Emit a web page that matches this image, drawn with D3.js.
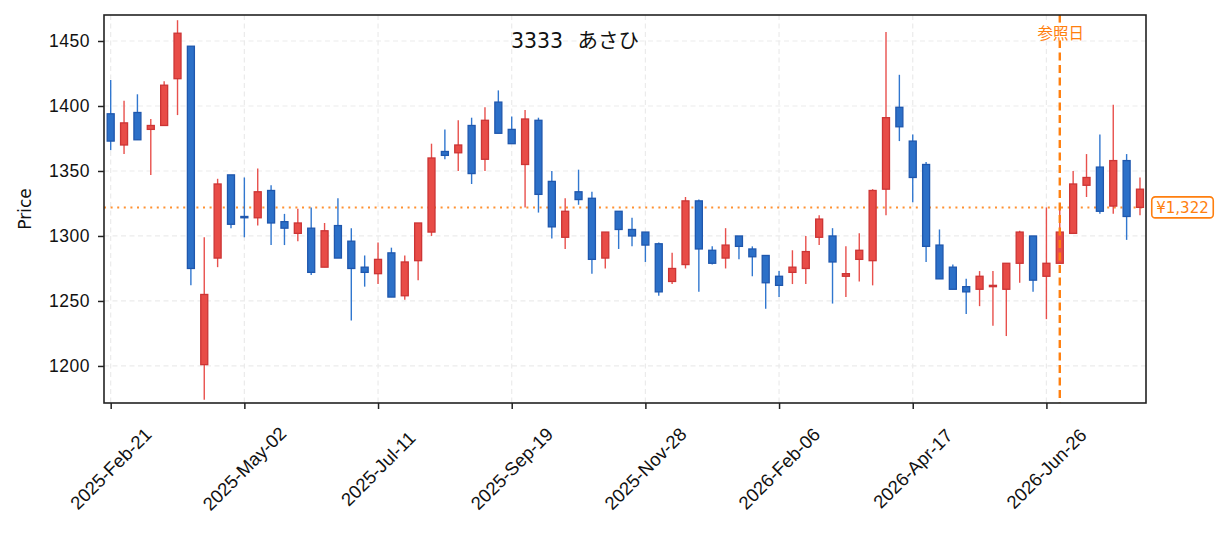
<!DOCTYPE html>
<html><head><meta charset="utf-8">
<script src="https://cdn.jsdelivr.net/npm/d3@7"></script>
<style>
html,body{margin:0;padding:0;background:#fff;}
svg{display:block;font-family:"DejaVu Sans","Noto Sans CJK JP",sans-serif;}
</style></head>
<body>
<svg id="c" width="1225" height="533"></svg>
<script>
const titleCode = "3333";
const titleName = "あさひ";
const openV  = [1394,1370,1395,1382,1385,1421,1446,1201,1283,1347,1315,1314,1335,1311,1302,1306,
1276,1308,1296,1276,1271,1287,1254,1281,1303,1365,1364,1385,1359,1403,1382,1355,
1389,1342,1299,1334,1329,1283,1319,1305,1303,1294,1265,1278,1327,1289,1283,1300,
1290,1285,1269,1272,1275,1299,1300,1269,1282,1281,1336,1399,1373,1355,1293,1276,
1261,1259,1261,1259,1279,1300,1269,1279,1302,1339,1353,1323,1358,1322];
const highV  = [1420,1404,1409,1390,1419,1466,1446,1299,1344,1347,1345,1352,1339,1317,1321,1322,
1310,1329,1306,1285,1295,1291,1285,1310,1371,1382,1389,1391,1399,1412,1392,1397,
1391,1350,1329,1351,1334,1303,1319,1314,1303,1295,1287,1330,1328,1292,1306,1300,
1292,1285,1273,1289,1300,1316,1306,1292,1302,1336,1457,1424,1378,1357,1305,1278,
1267,1273,1273,1279,1304,1300,1322,1325,1350,1363,1378,1401,1363,1345];
const lowV   = [1366,1363,1374,1347,1385,1393,1262,1174,1276,1306,1299,1308,1293,1293,1296,1270,
1276,1283,1235,1261,1263,1253,1251,1266,1300,1359,1350,1340,1350,1379,1371,1322,
1318,1298,1290,1324,1271,1275,1290,1292,1280,1254,1263,1275,1257,1278,1275,1282,
1269,1244,1253,1263,1263,1293,1248,1253,1265,1262,1316,1373,1326,1280,1267,1259,
1240,1246,1231,1223,1264,1257,1236,1279,1302,1330,1317,1317,1297,1316];
const closeV = [1373,1387,1374,1385,1416,1456,1275,1255,1340,1309,1314,1334,1310,1306,1310,1272,
1304,1283,1275,1272,1282,1253,1280,1310,1360,1362,1370,1348,1389,1379,1371,1390,
1332,1307,1319,1328,1282,1303,1305,1300,1293,1257,1275,1327,1290,1279,1293,1292,
1284,1264,1262,1276,1288,1313,1280,1271,1289,1335,1391,1384,1345,1292,1267,1259,
1257,1269,1262,1279,1303,1266,1279,1303,1340,1345,1319,1358,1315,1336];
const tickIndex  = [0,10,20,30,40,50,60,70];
const tickLabels = ["2025-Feb-21","2025-May-02","2025-Jul-11","2025-Sep-19","2025-Nov-28","2026-Feb-06","2026-Apr-17","2026-Jun-26"];
const yTicks = [1200,1250,1300,1350,1400,1450];
const refIndex = 71;
const refLabel = "参照日";
const refPrice = 1322;
const refPriceLabel = "¥1,322";
const yLabel = "Price";

const M = {l:104, r:1146, t:15, b:403};
const svg = d3.select("#c");
const n = openV.length;
const x = d3.scaleLinear().domain([-0.5, n - 1 + 0.45]).range([M.l, M.r]);
const y = d3.scaleLinear().domain([1171.5, 1470]).range([M.b, M.t]);

const UP = {fill:"#e84c47", edge:"#cc3535", wick:"#e8504c"};
const DN = {fill:"#2c70c8", edge:"#1f57ad", wick:"#3177cf"};
const ORANGE = "#ff7f0e";

// grid
const g = svg.append("g");
g.selectAll(".gy").data(yTicks).join("line")
  .attr("x1", M.l).attr("x2", M.r).attr("y1", d=>y(d)).attr("y2", d=>y(d))
  .attr("stroke", "#ebebeb").attr("stroke-width", 1.2).attr("stroke-dasharray", "5,3.5");
g.selectAll(".gx").data(tickIndex).join("line")
  .attr("x1", d=>x(d)).attr("x2", d=>x(d)).attr("y1", M.t).attr("y2", M.b)
  .attr("stroke", "#ebebeb").attr("stroke-width", 1.2).attr("stroke-dasharray", "5,3.5");

// ref price line
svg.append("line").attr("x1", M.l).attr("x2", M.r).attr("y1", y(refPrice)).attr("y2", y(refPrice))
  .attr("stroke", ORANGE).attr("stroke-width", 2).attr("stroke-dasharray", "2,4.6").attr("opacity", 0.85);

// candles
const data = d3.range(n).map(i => ({i, o:openV[i], h:highV[i], l:lowV[i], c:closeV[i]}));
const cg = svg.append("g");
const bw = 7;
data.forEach(d => {
  const col = d.c >= d.o ? UP : DN;
  cg.append("line").attr("x1", x(d.i)).attr("x2", x(d.i))
    .attr("y1", y(d.h)).attr("y2", y(d.l))
    .attr("stroke", col.wick).attr("stroke-width", 1.4);
  const top = y(Math.max(d.o, d.c)), bot = y(Math.min(d.o, d.c));
  cg.append("rect").attr("x", x(d.i) - bw/2).attr("y", top)
    .attr("width", bw).attr("height", Math.max(bot - top, 1.2))
    .attr("fill", col.fill).attr("stroke", col.edge).attr("stroke-width", 1.3);
});

// ref date line
svg.append("line").attr("x1", x(refIndex)).attr("x2", x(refIndex)).attr("y1", M.t).attr("y2", M.b)
  .attr("stroke", ORANGE).attr("stroke-width", 2.4).attr("stroke-dasharray", "8,4.5");
const rlg = svg.append("g");
const rlBg = rlg.append("rect");
const rl = rlg.append("text").attr("x", x(refIndex) + 1).attr("y", 38.5)
  .attr("text-anchor", "middle").attr("fill", ORANGE).attr("font-size", 15.5)
  .attr("font-family", "\"Noto Sans CJK JP\",sans-serif").text(refLabel);
const bb = rl.node().getBBox();
rlBg.attr("x", bb.x).attr("y", bb.y + 2).attr("width", bb.width).attr("height", bb.height - 4)
  .attr("fill", "#fff").attr("opacity", 0.8);

// frame
svg.append("rect").attr("x", M.l).attr("y", M.t).attr("width", M.r - M.l).attr("height", M.b - M.t)
  .attr("fill", "none").attr("stroke", "#222").attr("stroke-width", 1.6);

// axes
const ax = svg.append("g").attr("transform", `translate(0,${M.b})`)
  .call(d3.axisBottom(x).tickValues(tickIndex).tickFormat((d,i)=>tickLabels[i]).tickSize(6).tickPadding(4));
ax.select(".domain").remove();
ax.selectAll(".tick line").attr("stroke", "#222").attr("stroke-width", 1.5);
ax.selectAll(".tick text").attr("font-size", 18.5).attr("fill", "#111")
  .attr("text-anchor", "middle").attr("y", 0).attr("dy", "0.32em")
  .attr("transform", "translate(0,66) rotate(-45)");

const ay = svg.append("g").attr("transform", `translate(${M.l},0)`)
  .call(d3.axisLeft(y).tickValues(yTicks).tickFormat(d3.format("d")).tickSize(6).tickPadding(8));
ay.select(".domain").remove();
ay.selectAll(".tick line").attr("stroke", "#222").attr("stroke-width", 1.5);
ay.selectAll(".tick text").attr("font-size", 17.5).attr("fill", "#111").attr("letter-spacing", 0.5);

svg.append("text").attr("transform", `translate(31,${(M.t+M.b)/2}) rotate(-90)`)
  .attr("text-anchor", "middle").attr("font-size", 17).attr("fill", "#111").text(yLabel);

// title
const tt = svg.append("text").attr("x", 575).attr("y", 47.5).attr("text-anchor", "middle")
  .attr("font-size", 20.5).attr("fill", "#111");
tt.append("tspan").text(titleCode + " ");
tt.append("tspan").attr("dx", 8).text(titleName);

// price label box
const plg = svg.append("g");
const plBox = plg.append("rect");
const pl = plg.append("text").attr("x", 1182.5).attr("y", y(refPrice) + 5.5).attr("text-anchor", "middle")
  .attr("font-size", 15).attr("fill", ORANGE).text(refPriceLabel);
const pb = pl.node().getBBox();
plBox.attr("x", pb.x - 4.5).attr("y", y(refPrice) - 10.5)
  .attr("width", pb.width + 9).attr("height", 21).attr("rx", 3.5)
  .attr("fill", "#fff").attr("stroke", ORANGE).attr("stroke-width", 1.6);
</script>
</body></html>
